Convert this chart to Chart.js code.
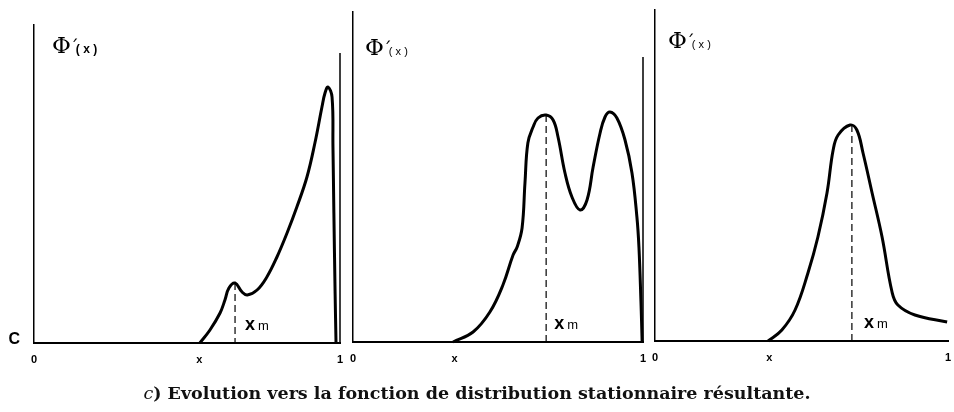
<!doctype html>
<html lang="fr">
<head>
<meta charset="UTF-8">
<title>Evolution vers la fonction de distribution stationnaire</title>
<script src="https://cdn.jsdelivr.net/npm/chart.js@4.4.1/dist/chart.umd.min.js"></script>
<style>
  body { margin:0; background:#fff; width:954px; height:412px; position:relative; overflow:hidden; }
  canvas { position:absolute; top:0; }
  #caption { position:absolute; left:0; width:954px; top:383px; text-align:center;
             font: bold 17.5px "DejaVu Serif", serif; color:#111; }
</style>
</head>
<body>

<canvas id="p1" width="345" height="412" style="left:0px"></canvas>
<canvas id="p2" width="303" height="412" style="left:345px"></canvas>
<canvas id="p3" width="306" height="412" style="left:648px"></canvas>
<div id="caption"><i style="font-weight:normal">c</i>) Evolution vers la fonction de distribution stationnaire résultante.</div>

<script>
// values: x as a fraction of [0,1], y in relative units above the baseline C
var p1X = [0.542, 0.575, 0.608, 0.624, 0.637, 0.657, 0.680, 0.697, 0.729, 0.761, 0.794, 0.827, 0.859, 0.892, 0.918, 0.941, 0.951, 0.961, 0.974, 0.977, 0.980, 0.984, 0.987];
var p1Y = [0,     13,    30,    43,    55,    60,    51,    48,    53,    66,    86,    110,   136,   166,   200,   236,   250,   256,   246,   196,   130,   50,    0];

var p2X = [0.345, 0.414, 0.472, 0.517, 0.552, 0.566, 0.583, 0.593, 0.603, 0.621, 0.638, 0.666, 0.690, 0.707, 0.731, 0.755, 0.783, 0.807, 0.828, 0.852, 0.869, 0.886, 0.910, 0.938, 0.962, 0.979, 0.986, 0.993, 0.997];
var p2Y = [0,     10,    30,    57,    87,    95,    114,   159,   199,   215,   224,   227,   222,   205,   169,   145,   132,   142,   175,   209,   225,   230,   224,   202,   169,   125,   95,    40,    0];

var p3X = [0.386, 0.433, 0.478, 0.522, 0.556, 0.587, 0.608, 0.625, 0.666, 0.689, 0.710, 0.741, 0.775, 0.809, 0.829, 0.887, 0.997];
var p3Y = [0,     11,    31,    68,    104,   148,   191,   206,   216,   211,   188,   148,   104,   49,    36,    26,    19];

// x_m (position of the maximum) and the height where its dashed line starts
var xmPos  = [0.657, 0.666, 0.672];
var xmTop  = [60, 227, 216];
// position of the "x" tick on each axis
var xStart = [0.54, 0.35, 0.39];
// thin vertical line at x = 1 (panels 1 and 2)
var edgeTop = [290, 285, null];
var xTickLabels = ['0', 'x', '1'];
var yTickLabel = 'C';

var notes = {
  id: 'notes',
  afterDraw: function(chart) {
    var c = chart.options.plugins.notes;
    var ctx = chart.ctx, a = chart.chartArea;
    var xs = chart.scales.x, ys = chart.scales.y;
    ctx.save();
    ctx.fillStyle = '#000';
    ctx.textBaseline = 'alphabetic';
    // Phi'(x)
    var px = a.left + c.phiDx, py = c.phiBase;
    ctx.font = '23px "DejaVu Serif"';
    ctx.fillText('\u03A6', px, py);
    var w = ctx.measureText('\u03A6').width;
    ctx.font = '18px "DejaVu Serif"';
    ctx.fillText('\u00B4', px + w - 1, py + 1);
    ctx.font = c.argFont;
    ctx.fillText(c.arg, px + w + 5, py);
    // x_m
    var mx = xs.getPixelForValue(c.xm) + c.xmDx, my = ys.bottom - 13;
    ctx.font = 'bold 18px "Liberation Sans"';
    ctx.fillText('x', mx, my);
    var w2 = ctx.measureText('x').width;
    ctx.font = '13px "Liberation Sans"';
    ctx.fillText('m', mx + w2 + 3, my);
    // level C on the first axis
    if (c.showC) {
      ctx.font = 'bold 16px "Liberation Sans"';
      ctx.textAlign = 'right';
      ctx.fillText(yTickLabel, a.left - 14, ys.getPixelForValue(0) + 1);
    }
    ctx.restore();
  }
};

function panelChart(id, k, curveX, curveY, opt) {
  var datasets = [{
    data: curveX.map(function(v, i) { return {x: v, y: curveY[i]}; }),
    borderColor: '#000', borderWidth: 3, pointRadius: 0,
    tension: 0.4, fill: false, clip: false
  }, {
    data: [{x: xmPos[k], y: xmTop[k]}, {x: xmPos[k], y: 0}],
    borderColor: '#000', borderWidth: 1.2, borderDash: [7, 4], pointRadius: 0, clip: false
  }];
  if (edgeTop[k] !== null) {
    datasets.push({
      data: [{x: 1, y: edgeTop[k]}, {x: 1, y: 0}],
      borderColor: '#000', borderWidth: 1.5, pointRadius: 0, clip: false
    });
  }
  return new Chart(document.getElementById(id), {
    type: 'line',
    data: { datasets: datasets },
    options: {
      responsive: false,
      animation: false,
      events: [],
      layout: { padding: opt.pad },
      scales: {
        x: {
          type: 'linear', min: 0, max: 1,
          grid: { display: false, drawTicks: false },
          border: { display: true, color: '#000', width: 2 },
          afterBuildTicks: function(s) { s.ticks = [{value: 0}, {value: xStart[k]}, {value: 1}]; },
          afterFit: function(s) { s.height = 30; s.paddingLeft = 0; s.paddingRight = 0; },
          ticks: {
            autoSkip: false, maxRotation: 0, padding: 10, color: '#000',
            font: { family: 'Liberation Sans', size: 11, weight: 'bold' },
            callback: function(v, i) { return xTickLabels[i]; }
          }
        },
        y: {
          min: 0, max: opt.yMax,
          grid: { display: false, drawTicks: false },
          border: { display: true, color: '#000', width: 1.5 },
          afterFit: function(s) { s.width = 0; s.paddingTop = 0; s.paddingBottom = 0; },
          ticks: { display: false }
        }
      },
      plugins: {
        legend: { display: false },
        tooltip: { enabled: false },
        notes: { phiDx: opt.phiDx, phiBase: opt.phiBase, arg: opt.arg, argFont: opt.argFont,
                 xm: xmPos[k], xmDx: opt.xmDx, showC: k === 0 }
      }
    },
    plugins: [notes]
  });
}

panelChart('p1', 0, p1X, p1Y, { pad: {left: 34, right: 5, top: 25, bottom: 39}, yMax: 318,
  phiDx: 18, phiBase: 53, arg: '( x )', argFont: 'bold 12px "Liberation Sans"', xmDx: 10 });
panelChart('p2', 1, p2X, p2Y, { pad: {left: 8, right: 5, top: 12, bottom: 40}, yMax: 330,
  phiDx: 12, phiBase: 55, arg: '( x )', argFont: '11px "Liberation Sans"', xmDx: 8 });
panelChart('p3', 2, p3X, p3Y, { pad: {left: 7, right: 6, top: 10, bottom: 41}, yMax: 331,
  phiDx: 13, phiBase: 48, arg: '( x )', argFont: '11px "Liberation Sans"', xmDx: 12 });
</script>
</body>
</html>
